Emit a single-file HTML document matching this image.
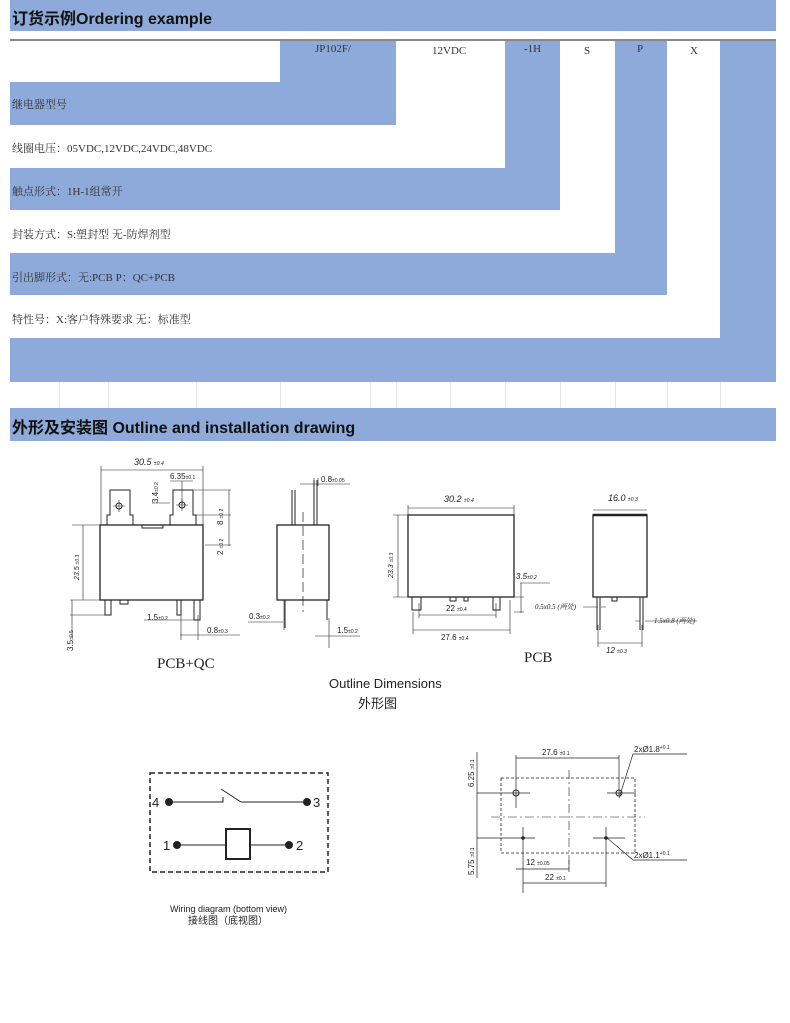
<!DOCTYPE html>
<html><head><meta charset="utf-8"><style>
body{margin:0;background:#fff;}
.wrap{position:relative;width:790px;height:1023px;overflow:hidden;background:#fff;font-family:"Liberation Serif","Noto Serif CJK SC",serif;}
.b{position:absolute;background:#8eaadb;}
.t{position:absolute;font-size:11px;color:#333;white-space:nowrap;}
.h{position:absolute;font-family:"Liberation Sans","Noto Sans CJK SC",sans-serif;font-weight:bold;font-size:16px;color:#111;}
.g{position:absolute;width:1px;background:#e6e6e6;}
</style></head><body><div class="wrap">
<div class="b" style="left:10px;top:0;width:766px;height:31px"></div>
<div class="h" style="left:12px;top:5px">订货示例Ordering example</div>
<div style="position:absolute;left:10px;top:39px;width:766px;height:2px;background:#888"></div>
<div class="b" style="left:280px;top:41px;width:116px;height:84px"></div>
<div class="b" style="left:10px;top:82px;width:386px;height:43px"></div>
<div class="b" style="left:505px;top:41px;width:55px;height:169px"></div>
<div class="b" style="left:10px;top:168px;width:550px;height:42px"></div>
<div class="b" style="left:615px;top:41px;width:52px;height:254px"></div>
<div class="b" style="left:10px;top:253px;width:657px;height:42px"></div>
<div class="b" style="left:720px;top:41px;width:56px;height:341px"></div>
<div class="b" style="left:10px;top:338px;width:766px;height:44px"></div>
<div class="t" style="left:315px;top:43px">JP102F/</div>
<div class="t" style="left:432px;top:45px">12VDC</div>
<div class="t" style="left:524px;top:43px">-1H</div>
<div class="t" style="left:584px;top:45px">S</div>
<div class="t" style="left:637px;top:43px">P</div>
<div class="t" style="left:690px;top:45px">X</div>
<div class="t" style="left:12px;top:96px">继电器型号</div>
<div class="t" style="left:12px;top:140px">线圈电压：05VDC,12VDC,24VDC,48VDC</div>
<div class="t" style="left:12px;top:183px">触点形式：1H-1组常开</div>
<div class="t" style="left:12px;top:226px">封装方式：S:塑封型 无-防焊剂型</div>
<div class="t" style="left:12px;top:269px">引出脚形式：无:PCB  P：QC+PCB</div>
<div class="t" style="left:12px;top:311px">特性号：X:客户特殊要求  无：标准型</div>
<div class="g" style="left:59px;top:382px;height:26px"></div><div class="g" style="left:108px;top:382px;height:26px"></div>
<div class="g" style="left:196px;top:382px;height:26px"></div><div class="g" style="left:280px;top:382px;height:26px"></div>
<div class="g" style="left:370px;top:382px;height:26px"></div><div class="g" style="left:396px;top:382px;height:26px"></div>
<div class="g" style="left:450px;top:382px;height:26px"></div><div class="g" style="left:505px;top:382px;height:26px"></div>
<div class="g" style="left:560px;top:382px;height:26px"></div><div class="g" style="left:615px;top:382px;height:26px"></div>
<div class="g" style="left:667px;top:382px;height:26px"></div><div class="g" style="left:720px;top:382px;height:26px"></div>
<div class="b" style="left:10px;top:408px;width:766px;height:33px"></div>
<div class="h" style="left:12px;top:414px">外形及安装图 Outline and installation drawing</div>

<svg style="position:absolute;left:0;top:0" width="790" height="1023" font-family="Liberation Sans, sans-serif" fill="none" stroke="#222" stroke-width="1">
<!-- PCB+QC front -->
<rect x="100" y="525" width="103" height="75" stroke-width="1.3"/>
<path d="M107 525V515h3V490h20v25h3v10M170 525V515h3V490h20v25h3v10M142 525v3h21v-3" />
<circle cx="119" cy="506" r="3"/><circle cx="182" cy="505" r="3"/>
<path d="M119 500v12M113 506h12M182 499v12M176 505h12" stroke-width="0.6"/>
<path d="M101 470h102M101 466v59M203 466v59M83 525v75M72 525h28M70 600h30M70 615h35M72 600v38M229 490v56M194 490h37M194 515h37M205 545h26M170 481h23M182 481v24M152 503h18" stroke-width="0.6"/>
<path d="M105 600v15h6v-15M177 600v15h4v-15M194 600v20h6v-20M120 600v4h8v-4" />
<path d="M144 620h54M180 635h60M181 615v25M198 615v25" stroke-width="0.6"/>
<!-- side view -->
<rect x="277" y="525" width="52" height="75" stroke-width="1.3"/>
<path d="M292 525V490M295 525V490M314 525V480M317 525V480M285 600v28M327 600v20" />
<path d="M303 512v100" stroke-dasharray="10 4" stroke-width="0.7"/>
<path d="M300 484h50M314 478v8M318 478v8M248 622h35M284 600v30M329 618v30M315 636h45" stroke-width="0.6"/>
<!-- PCB view -->
<rect x="408" y="515" width="106" height="82" stroke-width="1.3"/>
<path d="M412 597v13h9v-13M493 597v13h7v-13M450 597v4h6v-4M464 597v4h4v-4"/>
<path d="M408 508h106M408 505v10M514 505v10M398 515v82M393 515h15M393 597h15M419 615h77M419 603v15M496 603v15M413 630h97M413 612v22M510 600v34M520 583h30M521 583v30M514 597h10M514 612h10" stroke-width="0.6"/>
<!-- PCB side -->
<rect x="593" y="515" width="54" height="82" stroke-width="1.3"/>
<path d="M593 515h54" stroke-width="2.5"/>
<path d="M597 597v33M600 597v33M640 597v33M643 597v33M612 597v4h5v-4"/>
<path d="M593 510h54M598 643h44M598 625v22M642 625v22M583 607h15M601 607h5M635 621h5M645 621h52" stroke-width="0.6"/>
<!-- wiring -->
<rect x="150" y="773" width="178" height="99" stroke-dasharray="5 3" stroke-width="1.5"/>
<path d="M169 802h54v-5M221 789l20 13h66M177 845h49M250 845h39" stroke-width="1"/>
<rect x="226" y="829" width="24" height="30" stroke-width="2"/>
<g fill="#222" stroke="none"><circle cx="169" cy="802" r="4"/><circle cx="307" cy="802" r="4"/><circle cx="177" cy="845" r="4"/><circle cx="289" cy="845" r="4"/></g>
<!-- layout -->
<rect x="501" y="778" width="134" height="75" stroke-dasharray="3 2" stroke-width="0.8"/>
<path d="M491 817h154M569 770v98" stroke-dasharray="9 3 2 3" stroke-width="0.6"/>
<path d="M477 752v126M477 793h53M516 755v53M607 793h29M619 755v40M477 838h58M523 827v66M593 838h32M606 827v60M516 758h103M516 869h53M569 860v12M523 883h83M619 798l14 -44h54M606 837l27 23h54" stroke-width="0.7"/>
<circle cx="516" cy="793" r="3"/><circle cx="619" cy="793" r="3"/>
<g fill="#222" stroke="none"><circle cx="523" cy="838" r="1.8"/><circle cx="606" cy="838" r="1.8"/></g>
<g fill="#222" stroke="none" font-size="8">
<text x="134" y="465" font-style="italic" font-size="9">30.5 <tspan font-size="5">±0.4</tspan></text>
<text x="170" y="479" font-size="8">6.35<tspan font-size="5">±0.1</tspan></text>
<text transform="translate(158,503) rotate(-90)">3.4<tspan font-size="5">±0.2</tspan></text>
<text transform="translate(223,525) rotate(-90)">8 <tspan font-size="5">±0.2</tspan></text>
<text transform="translate(223,555) rotate(-90)">2 <tspan font-size="5">±0.2</tspan></text>
<text transform="translate(79,580) rotate(-90)" font-style="italic" font-size="7">23.5 <tspan font-size="5">±0.3</tspan></text>
<text transform="translate(73,651) rotate(-90)">3.5<tspan font-size="5">±0.5</tspan></text>
<text x="147" y="620">1.5<tspan font-size="5">±0.2</tspan></text>
<text x="207" y="633">0.8<tspan font-size="5">±0.3</tspan></text>
<text x="321" y="482">0.8<tspan font-size="5">±0.05</tspan></text>
<text x="249" y="619">0.3<tspan font-size="5">±0.2</tspan></text>
<text x="337" y="633">1.5<tspan font-size="5">±0.2</tspan></text>
<text x="444" y="502" font-style="italic" font-size="9">30.2 <tspan font-size="5">±0.4</tspan></text>
<text transform="translate(393,578) rotate(-90)" font-style="italic" font-size="7">23.3 <tspan font-size="5">±0.3</tspan></text>
<text x="516" y="579" font-style="italic">3.5<tspan font-size="5">±0.2</tspan></text>
<text x="446" y="611">22 <tspan font-size="5">±0.4</tspan></text>
<text x="441" y="640">27.6 <tspan font-size="5">±0.4</tspan></text>
<text x="608" y="501" font-style="italic" font-size="9">16.0 <tspan font-size="5">±0.3</tspan></text>
<text x="535" y="609" font-style="italic" font-size="7" font-family="Liberation Serif, Noto Serif CJK SC, serif">0.5x0.5 (两处)</text>
<text x="654" y="623" font-style="italic" font-size="7" font-family="Liberation Serif, Noto Serif CJK SC, serif">1.5x0.8 (两处)</text>
<text x="606" y="653" font-style="italic">12 <tspan font-size="5">±0.3</tspan></text>
<text x="157" y="668" font-size="15" font-family="Liberation Serif, serif">PCB+QC</text>
<text x="524" y="662" font-size="15" font-family="Liberation Serif, serif">PCB</text>
<text x="329" y="688" font-size="13">Outline Dimensions</text>
<text x="358" y="708" font-size="13" font-family="Noto Sans CJK SC, sans-serif">外形图</text>
<text x="152" y="807" font-size="13">4</text><text x="313" y="807" font-size="13">3</text>
<text x="163" y="850" font-size="13">1</text><text x="296" y="850" font-size="13">2</text>
<text x="170" y="912" font-size="9">Wiring diagram (bottom view)</text>
<text x="188" y="924" font-size="10" font-family="Noto Sans CJK SC, sans-serif">接线图（底视图）</text>
<text x="542" y="755" font-size="8">27.6 <tspan font-size="5">±0.1</tspan></text>
<text x="634" y="752" font-size="8">2xØ1.8<tspan font-size="5" dy="-3">+0.1</tspan></text>
<text x="634" y="858" font-size="8">2xØ1.1<tspan font-size="5" dy="-3">+0.1</tspan></text>
<text transform="translate(474,787) rotate(-90)" font-size="8">6.25 <tspan font-size="5">±0.1</tspan></text>
<text transform="translate(474,875) rotate(-90)" font-size="8">5.75 <tspan font-size="5">±0.1</tspan></text>
<text x="526" y="865" font-size="8">12 <tspan font-size="5">±0.05</tspan></text>
<text x="545" y="880" font-size="8">22 <tspan font-size="5">±0.1</tspan></text>
</g>
</svg>
</div></body></html>
